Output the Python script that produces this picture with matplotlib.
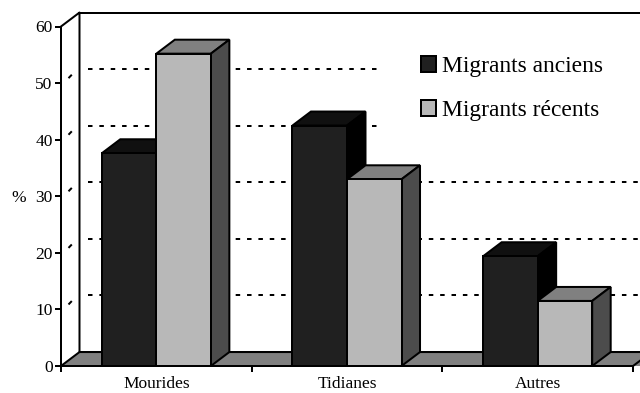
import matplotlib
matplotlib.use("Agg")
import matplotlib.pyplot as plt
from matplotlib.patches import Patch

plt.rcParams["font.family"] = ["Liberation Serif", "DejaVu Serif"]
plt.rcParams["lines.scale_dashes"] = False

categories = ["Mourides", "Tidianes", "Autres"]
anciens = [37.6, 42.5, 19.4]
recents = [55.2, 33.0, 11.5]
yticks = [0, 10, 20, 30, 40, 50, 60]
grid_levels = [10, 20, 30, 40, 50]

# 3d look: depth of the box, in data units
depth_x = 0.097
depth_y = 2.47
bar_w = 0.286
px = 0.72  # one pixel in points at dpi 100
lw = 2 * px

dark = ("#202020", "#101010", "#000000")
light = ("#b8b8b8", "#808080", "#4c4c4c")


def draw_bar(ax, left, value, colors, z, label):
    front, top, side = colors
    right = left + bar_w
    ax.fill([left, left + depth_x, right + depth_x, right],
            [value, value + depth_y, value + depth_y, value],
            facecolor=top, edgecolor="black", lw=lw, zorder=z, clip_on=False)
    ax.fill([right, right + depth_x, right + depth_x, right],
            [0, depth_y, value + depth_y, value],
            facecolor=side, edgecolor="black", lw=lw, zorder=z, clip_on=False)
    ax.bar(left, value, bar_w, align="edge", color=front, edgecolor="black",
           lw=lw, zorder=z + 0.5, clip_on=False, label=label)


fig = plt.figure(figsize=(6.4, 3.93), dpi=100)
ax = fig.add_axes([61 / 640, 27 / 393, 572 / 640, 339.5 / 393])
ax.set_xlim(0, 3)
ax.set_ylim(0, 60)

for s in ["top", "right"]:
    ax.spines[s].set_visible(False)
for s in ["left", "bottom"]:
    ax.spines[s].set_linewidth(lw)
    ax.spines[s].set_zorder(8)

# floor and back wall
x_end = 3.05
ax.fill([0, depth_x, x_end + depth_x, x_end + depth_x, 3],
        [0, depth_y, depth_y, 0, 0],
        facecolor="#808080", edgecolor="none", zorder=1, clip_on=False)
ax.plot([0, depth_x, x_end], [0, depth_y, depth_y], color="black", lw=lw, zorder=1.5, clip_on=False)
ax.plot([3, 3 + depth_x], [0, depth_y], color="black", lw=lw, zorder=1.5, clip_on=False)
ax.plot([0, depth_x, depth_x, x_end], [60, 60 + depth_y, depth_y, depth_y], color="black", lw=lw,
        zorder=1.5, clip_on=False)
ax.plot([depth_x, x_end], [60 + depth_y, 60 + depth_y], color="black", lw=lw, zorder=1.5, clip_on=False)

# dotted grid on the wall, cut short behind the legend for the two upper ones
for v in grid_levels:
    end = 1.656 if v >= 40 else x_end
    ax.plot([0.142, end], [v + depth_y, v + depth_y], color="black", lw=lw,
            linestyle=(0, (4.5 * px, 6.86 * px)), dash_capstyle="butt", zorder=2, clip_on=False)
    # small leftover of the side wall gridline
    ax.plot([0.043, 0.053], [v + 1.0, v + 1.35], color="black", lw=lw, zorder=2, clip_on=False)

for i in range(len(categories)):
    draw_bar(ax, i + 0.5 - bar_w, anciens[i], dark, 3, None)
    draw_bar(ax, i + 0.5, recents[i], light, 5, None)

ax.set_yticks(yticks)
ax.set_xticks([0, 1, 2, 3])
ax.set_xticks([0.5, 1.5, 2.5], minor=True)
ax.set_xticklabels([])
ax.set_xticklabels(categories, minor=True, fontsize=12.5)
ax.tick_params(axis="x", which="major", length=4.5, width=lw, direction="out")
ax.tick_params(axis="x", which="minor", length=0, pad=7.5)
ax.tick_params(axis="y", length=4.5, width=lw, labelsize=12.5, pad=1.5)
ax.set_ylabel("%", fontsize=12.5, rotation=0, labelpad=0)
ax.yaxis.set_label_coords(-0.086, 0.495)
ax.yaxis.label.set_va("center")
ax.yaxis.label.set_ha("left")

handles = [Patch(facecolor=dark[0], edgecolor="black", lw=lw),
           Patch(facecolor=light[0], edgecolor="black", lw=lw)]
fig.legend(handles, ["Migrants anciens", "Migrants récents"], loc="upper left",
           bbox_to_anchor=(421 / 640, 1 - 56 / 393), frameon=False, fontsize=16.9,
           handlelength=0.66, handleheight=0.66, handletextpad=0.25, labelspacing=0.975,
           borderpad=0, borderaxespad=0)

fig.savefig("out.png", dpi=100)
